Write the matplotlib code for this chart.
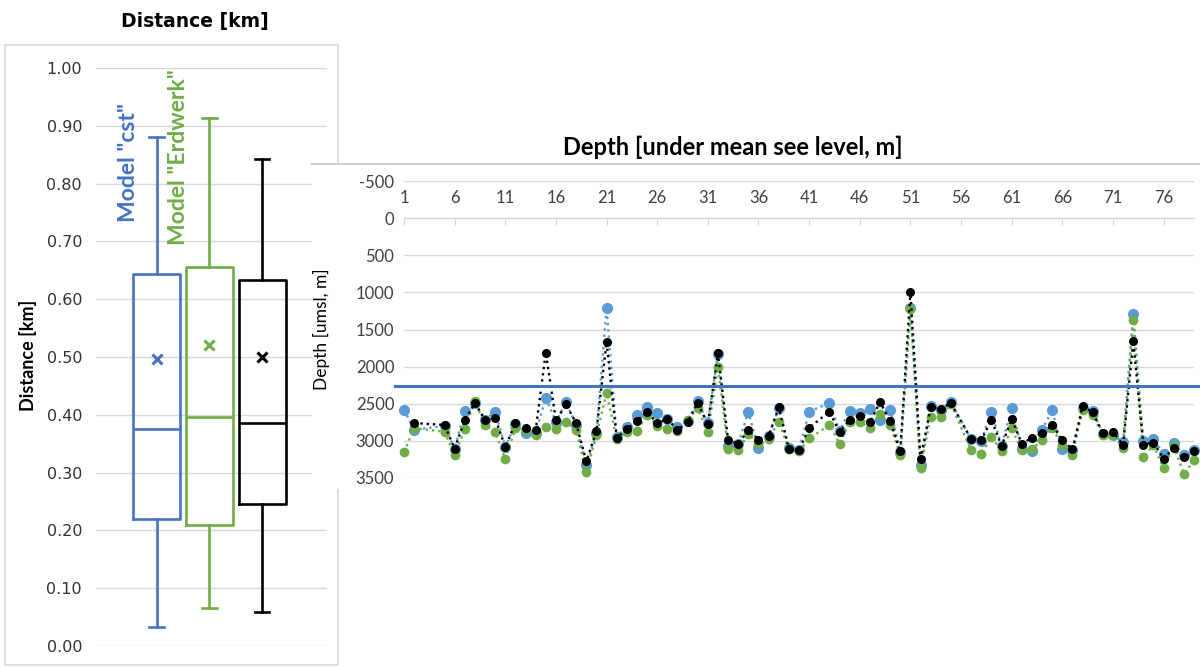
import numpy as np
import matplotlib.pyplot as plt
import matplotlib.patches as patches
from matplotlib.lines import Line2D
from matplotlib.ticker import FormatStrFormatter

plt.rcParams['axes.unicode_minus'] = False
nan = np.nan

# --- distance box plots (km) ---
box_names = ['cst', 'Erdwerk', 'measured']
box_colors = ['#4472C4', '#70AD47', '#000000']
box_min = [0.033, 0.066, 0.059]
box_q1 = [0.220, 0.210, 0.246]
box_med = [0.375, 0.397, 0.386]
box_q3 = [0.643, 0.656, 0.633]
box_max = [0.881, 0.913, 0.843]
box_mean = [0.496, 0.521, 0.500]

# --- depth per well (m under mean sea level) ---
wells = np.arange(1, 80)
depth_cst = [2582, 2850, nan, nan, 2800, 3110, 2591, 2485, 2718, 2605,
             3085, 2770, 2900, 2900, 2420, 2745, 2480, 2786, 3323, 2900,
             1212, 2945, 2809, 2650, 2550, 2627, 2700, 2809, 2735, 2459,
             2764, 1830, 3068, 3040, 2614, 3095, 2940, 2559, 3100, 3125,
             2605, nan, 2491, 2868, 2595, 2627, 2568, 2718, 2582, 3150,
             1212, 3330, 2536, 2582, 2477, nan, 2980, 2995, 2605, 3070,
             2559, 3114, 3141, 2855, 2582, 3114, 3120, 2555, 2595, 2905,
             2923, 3014, 1288, 3005, 2977, 3173, 3023, 3195, 3127]
depth_erdwerk = [3150, 2830, nan, nan, 2877, 3195, 2841, 2468, 2786, 2877,
                 3241, 2832, 2855, 2923, 2809, 2835, 2740, 2855, 3423, 2923,
                 2353, 2977, 2877, 2868, 2650, 2795, 2841, 2868, 2718, 2559,
                 2877, 2011, 3105, 3118, 2914, 3036, 2977, 2741, 3114, 3141,
                 2968, nan, 2786, 3036, 2741, 2741, 2832, 2641, 2786, 3186,
                 1221, 3368, 2673, 2673, 2505, nan, 3127, 3173, 2945, 3141,
                 2832, 3127, 3114, 2991, 2832, 3050, 3186, 2582, 2650, 2923,
                 2923, 3095, 1376, 3218, 3059, 3368, 3068, 3445, 3264]
depth_real = [nan, 2760, nan, nan, 2786, 3104, 2718, 2491, 2718, 2695,
              3082, 2764, 2832, 2855, 1810, 2725, 2510, 2764, 3277, 2868,
              1665, 2959, 2840, 2732, 2605, 2764, 2705, 2855, 2741, 2491,
              2777, 1820, 2991, 3036, 2855, 2982, 2932, 2550, 3105, 3127,
              2823, nan, 2605, 2877, 2718, 2659, 2750, 2477, 2732, 3141,
              990, 3241, 2550, 2568, 2491, nan, 2977, 2991, 2718, 3068,
              2705, 3036, 2959, 2900, 2786, 2991, 3114, 2536, 2614, 2900,
              2877, 3059, 1656, 3050, 3023, 3241, 3095, 3218, 3141]
depth_limit = 2260

W, H = 1200, 667
GRID = '#d9d9d9'
LBL = '#404040'

fig = plt.figure(figsize=(12, 6.67), dpi=100)

def fx(px):
    return px / W

def fy(py):
    return 1 - py / H

# frame around the distance chart
fig.add_artist(patches.Rectangle((fx(5), fy(665)), fx(333), 620 / H, fill=False,
                                 edgecolor=GRID, lw=1.2, transform=fig.transFigure, zorder=0.5))

ax1 = fig.add_axes([fx(96), fy(646), fx(327 - 96), (646 - 68) / H])
for i in range(3):
    c = box_colors[i]
    st = dict(med=box_med[i], q1=box_q1[i], q3=box_q3[i], whislo=box_min[i],
              whishi=box_max[i], mean=box_mean[i], fliers=[], label=box_names[i])
    ax1.bxp([st], positions=[i + 1], widths=0.89, capwidths=0.28, showmeans=True,
            manage_ticks=False,
            boxprops=dict(color=c, lw=1.9), whiskerprops=dict(color=c, lw=1.9),
            capprops=dict(color=c, lw=1.9), medianprops=dict(color=c, lw=1.9),
            meanprops=dict(marker='x', markeredgecolor=c, markersize=6.5, mew=2.2))

ax1.set_ylim(0, 1)
ax1.set_xlim(-0.147, 4.23)
ax1.set_yticks(np.arange(0, 1.01, 0.1))
ax1.yaxis.set_major_formatter(FormatStrFormatter('%.2f'))
ax1.set_xticks([])
ax1.grid(axis='y', color=GRID, lw=1)
ax1.set_axisbelow(True)
for s in ax1.spines.values():
    s.set_visible(False)
ax1.tick_params(axis='y', length=0, pad=10, labelsize=11.5, labelcolor='#333333')

ax1.text(0.46, 0.733, 'Model "cst"', rotation=90, ha='center', va='bottom',
         color='#4472C4', fontsize=16.5, fontweight='bold', family='Lato')
ax1.text(1.41, 0.694, 'Model "Erdwerk"', rotation=90, ha='center', va='bottom',
         color='#70AD47', fontsize=16.5, fontweight='bold', family='Lato')

fig.text(fx(195), fy(22), 'Distance [km]', ha='center', va='center',
         fontsize=13.5, fontweight='bold')
fig.text(fx(28), fy(355), 'Distance [km]', ha='center', va='center', rotation=90,
         fontsize=13, fontweight='bold', family='Lato')

# the depth chart sits on top of the right part of the distance chart
fig.add_artist(patches.Rectangle((fx(312), fy(489)), 1 - fx(312) + 0.01, (489 - 164) / H,
                                 facecolor='white', edgecolor='none',
                                 transform=fig.transFigure, zorder=1))
fig.add_artist(Line2D([fx(312), 1.0], [fy(164), fy(164)], color='#cfcfcf', lw=1.5,
                      transform=fig.transFigure, zorder=1.1))

ax2 = fig.add_axes([fx(404), fy(478), fx(790), 297 / H])
ax2.set_zorder(2)
ax2.patch.set_alpha(0)
ax2.set_xlim(1, 79)
ax2.set_ylim(3500, -500)
ax2.set_yticks(np.arange(-500, 3501, 500))
ax2.set_xticks(np.arange(1, 80, 5))
ax2.grid(axis='y', color=GRID, lw=1)
ax2.set_axisbelow(True)
for k in ['left', 'right', 'bottom']:
    ax2.spines[k].set_visible(False)
ax2.spines['top'].set_position(('data', 0))
ax2.spines['top'].set_color(GRID)
ax2.xaxis.tick_top()
ax2.tick_params(axis='x', direction='in', length=5, color=GRID, pad=9,
                labelsize=12, labelcolor=LBL)
ax2.tick_params(axis='y', length=0, pad=7, labelsize=12, labelcolor=LBL)
for lab in ax2.get_xticklabels() + ax2.get_yticklabels():
    lab.set_family('Lato')

series = [(depth_cst, '#5B9BD5', 7), (depth_erdwerk, '#70AD47', 6), (depth_real, '#000000', 5.5)]
for vals, c, ms in series:
    v = np.array(vals, dtype=float)
    ok = ~np.isnan(v)
    ax2.plot(wells[ok], v[ok], ls=':', lw=1.7, color=c, marker='o', ms=ms,
             mfc=c, mec=c, clip_on=False)

ax2.plot([-0.011, 1.0076], [depth_limit, depth_limit], color='#4472C4', lw=2.2,
         transform=ax2.get_yaxis_transform(), clip_on=False)

ax2.set_ylabel('Depth [umsl, m]', fontsize=12.5, family='Lato', color='#000000')
ax2.yaxis.set_label_coords((330 - 404) / 790, 0.5)

fig.text(fx(733), fy(147), 'Depth [under mean see level, m]', ha='center', va='center',
         fontsize=17, fontweight='bold', family='Lato')

fig.savefig('out.png', dpi=100)
